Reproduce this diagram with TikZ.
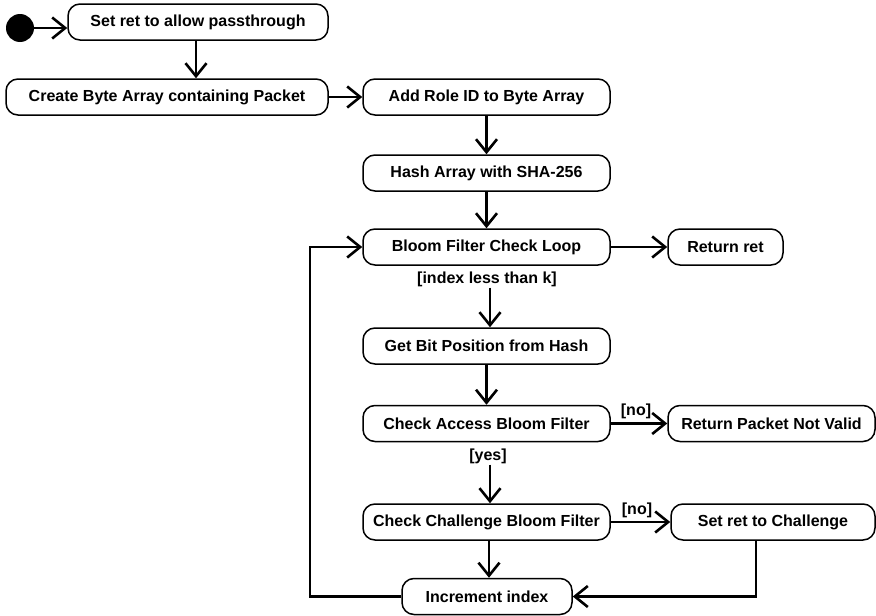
\documentclass[tikz,border=0pt]{standalone}
\usepackage{fontspec}
\setmainfont{Liberation Sans}
\usetikzlibrary{arrows.meta}
\begin{document}
\begin{tikzpicture}[x=1pt,y=-1pt,
  font=\fontsize{16}{19}\selectfont\bfseries,
  act/.style={draw, line width=1.5pt, rounded corners=12pt, inner sep=0pt,
    minimum height=36pt, align=center},
  col/.style={act, minimum width=247pt},
  flow/.style={line width=2.7pt, -{Straight Barb[length=13pt,width=21pt,line width=2.6pt]}},
  guard/.style={inner sep=1pt}]
\useasboundingbox (0,0) rectangle (876,616);

% initial state
\node[circle, fill=black, minimum size=28pt, inner sep=0pt] (init) at (20,28) {};

% activities
\node[act, minimum width=260pt] (n1) at (198,22) {Set ret to allow passthrough};
\node[act, minimum width=322pt] (n2) at (167,97) {Create Byte Array containing Packet};
\node[col] (n3) at (486.5,97) {Add Role ID to Byte Array};
\node[col] (n4) at (486.5,173) {Hash Array with SHA-256};
\node[col] (n5) at (486.5,247) {Bloom Filter Check Loop};
\node[act, minimum width=115pt] (ret) at (725.5,247) {Return ret};
\node[col] (n6) at (486.5,346) {Get Bit Position from Hash};
\node[col] (n7) at (486.5,423.5) {Check Access Bloom Filter};
\node[act, minimum width=207pt] (bad) at (771.5,423.5) {Return Packet Not Valid};
\node[col] (n8) at (486.5,522) {Check Challenge Bloom Filter};
\node[act, minimum width=204pt] (chal) at (773,522) {Set ret to Challenge};
\node[act, minimum width=170pt] (n9) at (487,596.5) {Increment index};

% guard labels
\node[guard] (gk) at (487,279) {[index less than k]};
\node[guard] (gyes) at (488,456) {[yes]};
\node[guard] (gno1) at (636,411) {[no]};
\node[guard] (gno2) at (637,510) {[no]};

% corner points of the routed connectors
\coordinate (loopL) at (310,596.5);
\coordinate (loopT) at (310,247);
\coordinate (chalB) at (756,596.5);

% connectors
\draw[flow] (init) -- (init -| n1.west);
\draw[flow] (n1.south -| 196,0) -- (n2.north -| 196,0);
\draw[flow] (n2) -- (n3);
\draw[flow] (n3) -- (n4);
\draw[flow] (n4) -- (n5);
\draw[flow] (n5) -- (ret);
\draw[flow] (gk.south -| 490,0) -- (n6.north -| 490,0);
\draw[flow] (n6) -- (n7);
\draw[flow] (n7) -- (bad);
\draw[flow] (gyes.south -| 490,0) -- (n8.north -| 490,0);
\draw[flow] (n8) -- (chal);
\draw[flow] (n8.south -| 489,0) -- (n9.north -| 489,0);
\draw[flow] (chal.south -| chalB) -- (chalB) -- (n9.east);
\draw[flow] (n9.west) -- (loopL) -- (loopT) -- (n5.west);
\end{tikzpicture}
\end{document}
